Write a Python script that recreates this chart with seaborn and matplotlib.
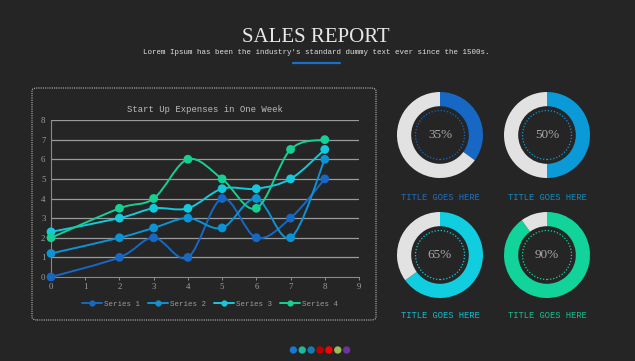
import numpy as np
import matplotlib
matplotlib.use("Agg")
import matplotlib.pyplot as plt
import seaborn as sns
import pandas as pd
from matplotlib.path import Path
from matplotlib.patches import PathPatch, FancyBboxPatch, Circle
from matplotlib.lines import Line2D

# data
days = [0, 2, 3, 4, 5, 6, 7, 8]
series_names = ["Series 1", "Series 2", "Series 3", "Series 4"]
series_1 = [0, 1, 2, 1, 4, 2, 3, 5]
series_2 = [1.2, 2, 2.5, 3, 2.5, 4, 2, 6]
series_3 = [2.3, 3, 3.5, 3.5, 4.5, 4.5, 5, 6.5]
series_4 = [2, 3.5, 4, 6, 5, 3.5, 6.5, 7]
series_colors = ["#1668c4", "#0c93d4", "#14c9dc", "#16cf94"]

donut_values = [35, 50, 65, 90]
donut_colors = ["#1668c4", "#0a9ad8", "#10cde0", "#12d39a"]
donut_labels = ["TITLE GOES HERE"] * 4
dot_colors = ["#1976d2", "#1abc9c", "#0e7fb0", "#c00000", "#ff0000", "#9bbb59", "#7030a0"]

bg = "#252525"
W, H = 635, 361

sns.set_theme(style="dark")
plt.rcParams["font.family"] = ["Liberation Mono", "DejaVu Sans Mono"]

fig = plt.figure(figsize=(W / 100, H / 100), dpi=100, facecolor=bg)


def fx(px):
    return px / W


def fy(py):
    return 1 - py / H


# header
fig.text(fx(316), fy(38), "SALES REPORT", ha="center", va="center", fontsize=15,
         color="#e8e8e8", family=["Liberation Serif", "DejaVu Serif"])
fig.text(fx(316), fy(52), "Lorem Ipsum has been the industry's standard dummy text ever since the 1500s.",
         ha="center", va="center", fontsize=5.4, color="#e0e0e0")
fig.add_artist(Line2D([fx(293), fx(340)], [fy(63), fy(63)], color="#1a6fcc", lw=1.6,
                      transform=fig.transFigure))

# panel border
panel = FancyBboxPatch((fx(32), fy(320)), fx(376) - fx(32), fy(88) - fy(320),
                       boxstyle="round,pad=0,rounding_size=0.008", transform=fig.transFigure,
                       facecolor="none", edgecolor="#bbbbbb", lw=0.8, ls=(0, (1, 1)))
fig.add_artist(panel)

# line chart
ax = fig.add_axes([fx(51), fy(277), fx(359) - fx(51), fy(120) - fy(277)])
ax.set_facecolor(bg)
ax.set_xlim(0, 9)
ax.set_ylim(0, 8)
ax.set_xticks(range(10))
ax.set_yticks(range(9))
ax.grid(False)
for yv in range(1, 9):
    ax.axhline(yv, color="#9a9a9a", lw=0.9, zorder=0)
for s in ["top", "right"]:
    ax.spines[s].set_visible(False)
for s in ["left", "bottom"]:
    ax.spines[s].set_color("#8a8a8a")
    ax.spines[s].set_linewidth(0.8)
ax.tick_params(axis="both", colors="#a0a0a0", labelsize=6.3, length=2, width=0.6, pad=2)
ax.tick_params(axis="x", bottom=True, direction="out")
ax.tick_params(axis="y", left=False)
for lbl in ax.get_xticklabels() + ax.get_yticklabels():
    lbl.set_family(["Liberation Serif", "DejaVu Serif"])
ax.set_title("Start Up Expenses in One Week", color="#bdbdbd", fontsize=6.4, pad=6)


def smooth_path(xs, ys):
    pts = np.column_stack([xs, ys]).astype(float)
    verts = [pts[0]]
    codes = [Path.MOVETO]
    n = len(pts)
    for i in range(n - 1):
        p0 = pts[i - 1] if i > 0 else pts[i]
        p1 = pts[i]
        p2 = pts[i + 1]
        p3 = pts[i + 2] if i + 2 < n else pts[i + 1]
        c1 = p1 + (p2 - p0) / 6
        c2 = p2 - (p3 - p1) / 6
        verts += [c1, c2, p2]
        codes += [Path.CURVE4] * 3
    return Path(verts, codes)


all_series = [series_1, series_2, series_3, series_4]
rows = []
for name, vals in zip(series_names, all_series):
    for d, v in zip(days, vals):
        rows.append({"day": d, "value": v, "series": name})
df = pd.DataFrame(rows)

for vals, col in zip(all_series, series_colors):
    ax.add_patch(PathPatch(smooth_path(days, vals), facecolor="none", edgecolor=col, lw=1.4,
                           zorder=3))
sns.scatterplot(data=df, x="day", y="value", hue="series", palette=series_colors, s=40,
                edgecolor="none", ax=ax, legend=False, zorder=4, clip_on=False)
ax.set_xlabel("")
ax.set_ylabel("")

handles = [Line2D([0], [0], color=c, lw=1.4, marker="o", markersize=3.5) for c in series_colors]
fig.legend(handles, series_names, loc="center", bbox_to_anchor=(fx(210), fy(304)), ncol=4,
           frameon=False, fontsize=5.4, labelcolor="#9a9a9a", handlelength=2.6,
           columnspacing=1.1, handletextpad=0.3)

# donuts
centers = [(440, 135), (547, 135), (440, 255), (547, 255)]
label_y = [197, 197, 316, 316]
label_colors = ["#1f6fc0", "#0e8cc0", "#10bcd0", "#12c090"]
R = 43
half = 50
for (cx, cy), val, col, lab, ly, lc in zip(centers, donut_values, donut_colors, donut_labels,
                                          label_y, label_colors):
    dax = fig.add_axes([fx(cx - half), fy(cy + half), fx(2 * half), fx(2 * half) * W / H])
    dax.set_facecolor("none")
    dax.pie([val, 100 - val], colors=[col, "#e2e2e2"], startangle=90, counterclock=False,
            radius=1, wedgeprops=dict(width=0.33, edgecolor="none"))
    dax.add_patch(Circle((0, 0), 0.57, facecolor="none", edgecolor=col, lw=0.9,
                         ls=(0, (1, 1.5))))
    dax.text(0, 0, f"{val}%", ha="center", va="center", fontsize=9.5, color="#a8a8a8",
             family=["Liberation Serif", "DejaVu Serif"])
    dax.set_xlim(-half / R, half / R)
    dax.set_ylim(-half / R, half / R)
    dax.set_aspect("equal")
    dax.axis("off")
    fig.text(fx(cx), fy(ly), lab, ha="center", va="center", fontsize=6.3, color=lc)

# color dots
dot_ax = fig.add_axes([fx(288), fy(356), fx(64), fy(344) - fy(356)])
dot_ax.set_facecolor("none")
dot_ax.scatter(range(len(dot_colors)), [0] * len(dot_colors), c=dot_colors, s=28,
               edgecolors="none")
dot_ax.set_xlim(-0.6, len(dot_colors) - 0.4)
dot_ax.set_ylim(-1, 1)
dot_ax.axis("off")

fig.savefig("out.png", dpi=100, facecolor=bg)
